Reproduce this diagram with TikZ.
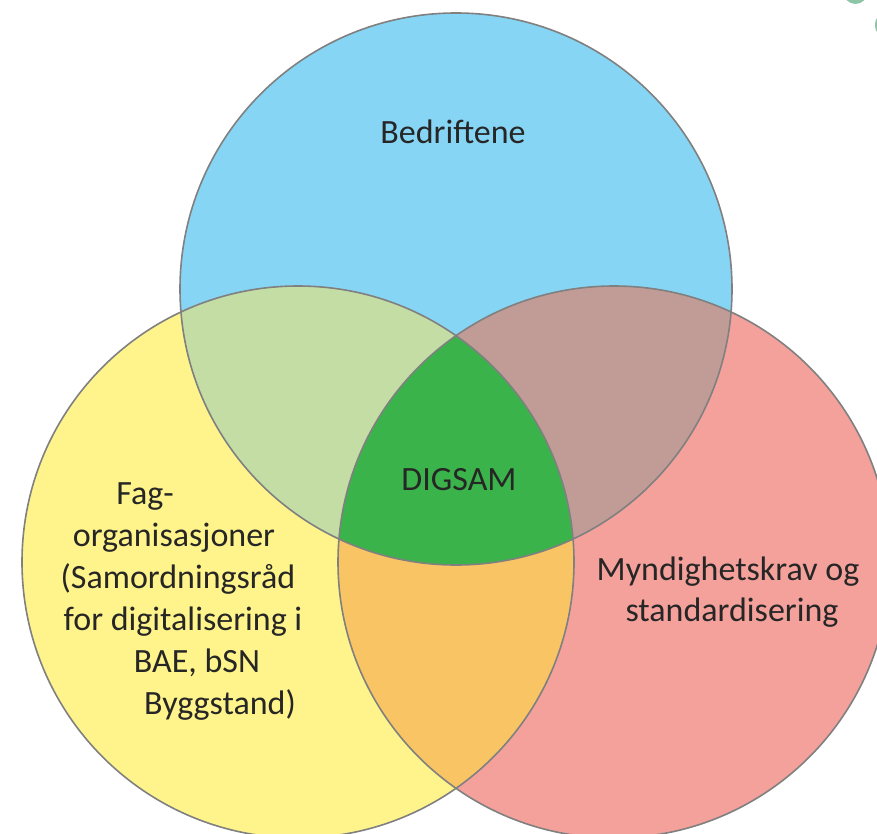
\documentclass[tikz,border=0pt]{standalone}
\usepackage{fontspec}
\setmainfont{Carlito}
\definecolor{cblue}{HTML}{87D5F4}
\definecolor{cyellow}{HTML}{FFF48B}
\definecolor{cred}{HTML}{F4A19B}
\definecolor{cby}{HTML}{C3DDA5}
\definecolor{cbr}{HTML}{C19C97}
\definecolor{cyr}{HTML}{F9C463}
\definecolor{ccenter}{HTML}{3AB34A}
\definecolor{cedge}{HTML}{808080}
\definecolor{cdot}{HTML}{8EC4A8}
\begin{document}
\begin{tikzpicture}[x=1pt,y=-1pt,
  ring/.style={draw=cedge,line width=1.6pt},
  lbl/.style={anchor=base,inner sep=0pt,font=\fontsize{34}{41}\selectfont,text=black!85}]
\useasboundingbox (0,0) rectangle (877,834);
\def\rad{276pt}
\coordinate (cb) at (456,289);
\coordinate (cy) at (298,562);
\coordinate (cr) at (614,562);
% plain discs
\fill[cblue] (cb) circle[radius=\rad];
\fill[cyellow] (cy) circle[radius=\rad];
\fill[cred] (cr) circle[radius=\rad];
% pairwise overlaps
\begin{scope}
  \clip (cb) circle[radius=\rad];
  \fill[cby] (cy) circle[radius=\rad];
  \fill[cbr] (cr) circle[radius=\rad];
\end{scope}
\begin{scope}
  \clip (cy) circle[radius=\rad];
  \fill[cyr] (cr) circle[radius=\rad];
\end{scope}
% common centre
\begin{scope}
  \clip (cb) circle[radius=\rad];
  \clip (cy) circle[radius=\rad];
  \fill[ccenter] (cr) circle[radius=\rad];
\end{scope}
% outlines
\draw[ring] (cb) circle[radius=\rad];
\draw[ring] (cy) circle[radius=\rad];
\draw[ring] (cr) circle[radius=\rad];
% small marks at the upper right edge
\fill[cdot] (855.5,-8) circle[radius=12pt];
\fill[cdot] (889,25) circle[radius=14pt];
% labels
\node[lbl] (tb) at (453,144) {Bedriftene};
\node[lbl] (tc) at (459,490) {DIGSAM};
\node[lbl] (tr1) at (728,580) {Myndighetskrav og};
\node[lbl] (tr2) at (732,621) {standardisering};
\node[lbl] (ty1) at (145,504) {Fag-};
\node[lbl] (ty2) at (174,546) {organisasjoner};
\node[lbl] (ty3) at (178,588) {(Samordningsråd};
\node[lbl] (ty4) at (183,630) {for digitalisering i};
\node[lbl] (ty5) at (197,672) {BAE, bSN};
\node[lbl] (ty6) at (220,714) {Byggstand)};
\end{tikzpicture}
\end{document}
